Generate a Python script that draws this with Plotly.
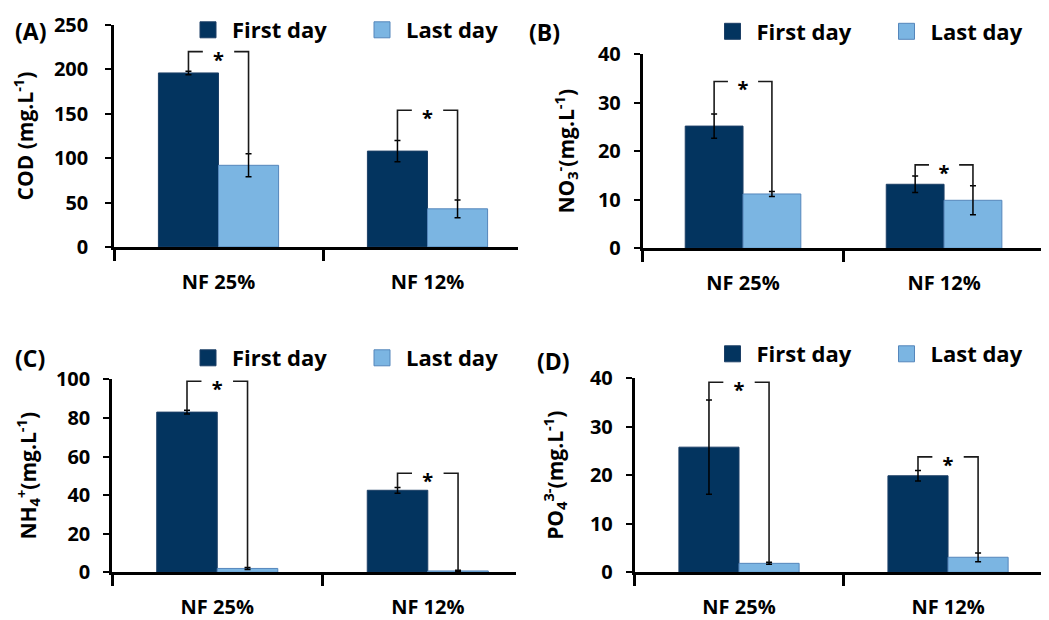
import plotly.graph_objects as go

# ---------------- data ----------------
categories = ["NF 25%", "NF 12%"]
series_names = ["First day", "Last day"]

cod_first = [196, 108]
cod_first_err = [2, 12]
cod_last = [92, 43]
cod_last_err = [13, 10]
cod_bracket = [220, 154]

no3_first = [25.2, 13.2]
no3_first_err = [2.5, 1.7]
no3_last = [11.2, 9.9]
no3_last_err = [0.5, 3.0]
no3_bracket = [34.4, 17.2]

nh4_first = [83, 42.5]
nh4_first_err = [1.0, 1.5]
nh4_last = [2.0, 0.7]
nh4_last_err = [0.5, 0.3]
nh4_bracket = [99, 51.3]

po4_first = [25.8, 19.9]
po4_first_err = [9.7, 1.1]
po4_last = [1.85, 3.1]
po4_last_err = [0.2, 0.9]
po4_bracket = [39.2, 23.8]

# ---------------- style ----------------
FONT = "Open Sans, Lato, sans-serif"
DARK = "#03345F"
DARK_EDGE = "#1c3f66"
LIGHT = "#7BB5E2"
LIGHT_EDGE = "#5586BB"
BARGAP = 0.425

REF_W, REF_H = 1049, 620
OFF = 8                      # page body margin
W, H = REF_W - OFF, REF_H - OFF


def fx(px):
    return (px - OFF) / W


def fy(py):
    return 1 - (py - OFF) / H


panels = [
    dict(label="(A)", title="COD (mg.L<sup>-1</sup>)",
         first=cod_first, ferr=cod_first_err, last=cod_last, lerr=cod_last_err,
         bracket=cod_bracket, yrange=[0, 250], dtick=50,
         xdom=[fx(114), fx(518)], xmax=1.433, ydom=[fy(247), fy(25)],
         tstand=13, ttl=23, lab_xy=(13, 31), leg_xy=(184, 30)),
    dict(label="(B)", title="NO<sub>3</sub><sup>-</sup>(mg.L<sup>-1</sup>)",
         first=no3_first, ferr=no3_first_err, last=no3_last, lerr=no3_last_err,
         bracket=no3_bracket, yrange=[0, 40], dtick=10,
         xdom=[fx(642.5), 1.0], xmax=1.522, ydom=[fy(248.3), fy(54.3)],
         tstand=9, ttl=18, lab_xy=(527, 32), leg_xy=(708.5, 31.5)),
    dict(label="(C)", title="NH<sub>4</sub><sup>+</sup>(mg.L<sup>-1</sup>)",
         first=nh4_first, ferr=nh4_first_err, last=nh4_last, lerr=nh4_last_err,
         bracket=nh4_bracket, yrange=[0, 100], dtick=20,
         xdom=[fx(112), fx(516)], xmax=1.419, ydom=[fy(572.3), fy(379.3)],
         tstand=9, ttl=14, lab_xy=(13, 358), leg_xy=(184, 358)),
    dict(label="(D)", title="PO<sub>4</sub><sup>3-</sup>(mg.L<sup>-1</sup>)",
         first=po4_first, ferr=po4_first_err, last=po4_last, lerr=po4_last_err,
         bracket=po4_bracket, yrange=[0, 40], dtick=10,
         xdom=[fx(634.5), 1.0], xmax=1.483, ydom=[fy(572.3), fy(378.3)],
         tstand=9, ttl=21, lab_xy=(535, 361), leg_xy=(708.5, 354)),
]

fig = go.Figure()
xpos = list(range(len(categories)))
offset = (1 - BARGAP) / 4.0   # centre offset of each bar in a group of two
gap = 0.075                   # half-gap in bracket around the asterisk

layout = dict()
annotations = []
for k, p in enumerate(panels):
    sfx = "" if k == 0 else str(k + 1)
    xa, ya = "x" + sfx, "y" + sfx
    leg = "legend" + sfx

    fig.add_trace(go.Bar(
        x=xpos, y=p["first"], name=series_names[0], xaxis=xa, yaxis=ya,
        marker=dict(color=DARK, line=dict(color=DARK_EDGE, width=1)),
        error_y=dict(type="data", array=p["ferr"], color="black", thickness=1.5, width=3),
        showlegend=False, legendgroup="first" + sfx, legend=leg))
    fig.add_trace(go.Bar(
        x=xpos, y=p["last"], name=series_names[1], xaxis=xa, yaxis=ya,
        marker=dict(color=LIGHT, line=dict(color=LIGHT_EDGE, width=1)),
        error_y=dict(type="data", array=p["lerr"], color="black", thickness=1.5, width=3),
        showlegend=False, legendgroup="last" + sfx, legend=leg))

    # legend entries (larger square symbols than the default bar icon)
    for nm, col, edge, grp in [(series_names[0], DARK, DARK_EDGE, "first"),
                               (series_names[1], LIGHT, LIGHT_EDGE, "last")]:
        fig.add_trace(go.Scatter(
            x=[None], y=[None], mode="markers", name=nm, xaxis=xa, yaxis=ya,
            marker=dict(symbol="square", size=16, color=col, line=dict(color=edge, width=1)),
            legendgroup=grp + sfx, legend=leg, showlegend=True))

    # significance brackets
    bx, by = [], []
    for i in xpos:
        yl = p["first"][i] + p["ferr"][i]
        yr = p["last"][i] + p["lerr"][i]
        top = p["bracket"][i]
        bx += [i - offset, i - offset, i - gap, None, i + gap, i + offset, i + offset, None]
        by += [yl, top, top, None, top, top, yr, None]
    fig.add_trace(go.Scatter(x=bx, y=by, mode="lines", xaxis=xa, yaxis=ya,
                             line=dict(color="#1a1a1a", width=1.6),
                             showlegend=False, hoverinfo="skip"))
    fig.add_trace(go.Scatter(x=xpos, y=p["bracket"], mode="text", text=["*"] * len(xpos),
                             textposition="bottom center", xaxis=xa, yaxis=ya,
                             textfont=dict(family=FONT, size=20, color="black", weight=700),
                             showlegend=False, hoverinfo="skip"))

    xkey = "xaxis" + sfx
    ykey = "yaxis" + sfx
    layout[xkey] = dict(
        domain=p["xdom"], anchor=ya, type="linear", range=[-0.5, p["xmax"]],
        tickmode="array", tickvals=xpos, ticktext=categories, ticks="",
        ticklabelstandoff=15,
        tickfont=dict(family=FONT, size=20, color="black", weight=700),
        minor=dict(tickmode="array", tickvals=[-0.5, 0.5, 1.5], ticks="outside",
                   ticklen=11, tickwidth=2.5, tickcolor="black", showgrid=False),
        showline=True, linecolor="black", linewidth=2.5,
        showgrid=False, zeroline=False, fixedrange=True)
    layout[ykey] = dict(
        domain=p["ydom"], anchor=xa, range=p["yrange"], dtick=p["dtick"],
        ticks="outside", ticklen=6, tickwidth=2, tickcolor="black",
        ticklabelstandoff=p["tstand"],
        tickfont=dict(family=FONT, size=20, color="black", weight=700),
        showline=True, linecolor="black", linewidth=2.5,
        showgrid=False, zeroline=False, fixedrange=True,
        title=dict(text=p["title"], standoff=p["ttl"],
                   font=dict(family=FONT, size=21, color="black", weight=700)))
    layout[leg] = dict(
        orientation="h", x=fx(p["leg_xy"][0]), xanchor="left",
        y=fy(p["leg_xy"][1]), yanchor="middle",
        font=dict(family=FONT, size=22, color="black", weight=700),
        itemwidth=38, entrywidth=121, bgcolor="rgba(0,0,0,0)", traceorder="normal")
    annotations.append(dict(
        text=p["label"], xref="paper", yref="paper",
        x=fx(p["lab_xy"][0]), y=fy(p["lab_xy"][1]),
        xanchor="left", yanchor="middle", showarrow=False,
        font=dict(family=FONT, size=23, color="black", weight=700)))

fig.update_layout(
    width=W, height=H, margin=dict(l=0, r=0, t=0, b=0, autoexpand=False),
    paper_bgcolor="white", plot_bgcolor="white",
    barmode="group", bargap=BARGAP, bargroupgap=0,
    annotations=annotations, font=dict(family=FONT, color="black"),
    **layout)

fig.write_html("out.html")
